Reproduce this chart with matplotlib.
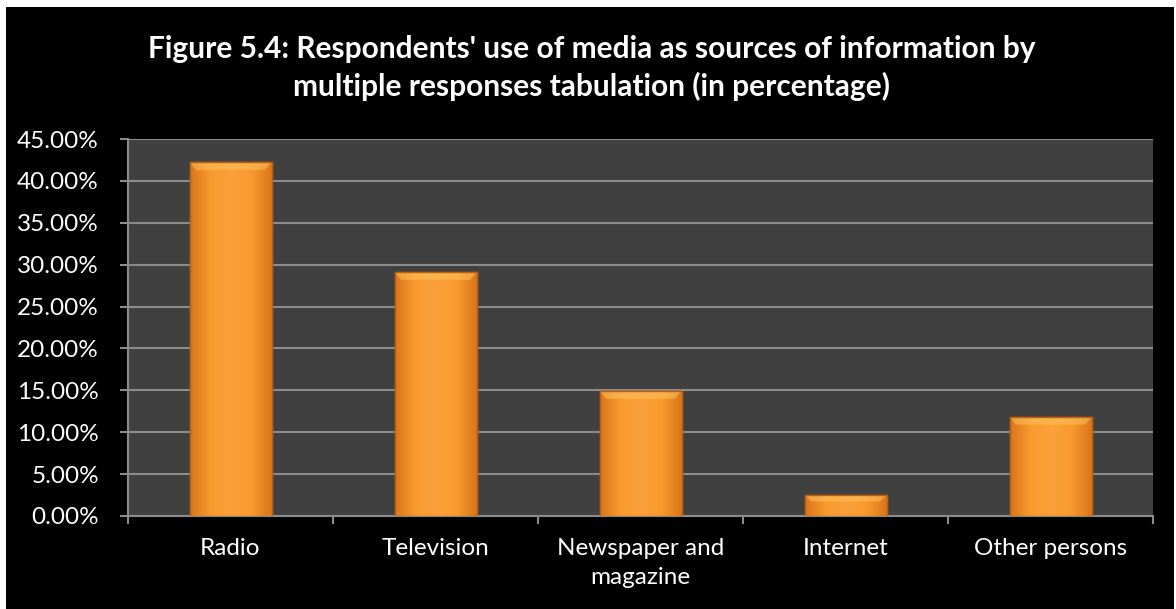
import matplotlib.pyplot as plt
import numpy as np
from matplotlib.ticker import FuncFormatter, MultipleLocator
from matplotlib.colors import LinearSegmentedColormap
from matplotlib.patches import Rectangle

plt.rcParams['font.family'] = ['Lato', 'DejaVu Sans']

categories = ['Radio', 'Television', 'Newspaper and\nmagazine', 'Internet', 'Other persons']
values = [42.2, 29.1, 14.9, 2.5, 11.8]

W, H = 1176, 609
fig = plt.figure(figsize=(W / 100, H / 100), dpi=100, facecolor='white')
# black chart area with a thin white margin on the left and top
fig.patches.append(Rectangle((6 / W, 0), (W - 8) / W, (H - 7) / H, transform=fig.transFigure,
                             facecolor='black', edgecolor='none', zorder=-10))

ax = fig.add_axes([128 / W, 1 - 516 / H, 1025 / W, 377 / H])
ax.set_facecolor('#404040')

x = np.arange(len(categories))
bars = ax.bar(x, values, width=0.4, color='#F7962A', edgecolor='#B85F12',
              linewidth=1.0, zorder=3)

# shaded fill: darker at the sides, light bevel across the top
cmap = LinearSegmentedColormap.from_list('bar', ['#D9761A', '#F99A2E', '#FBA03A', '#F99A2E', '#D9761A'])
for b in bars:
    x0, w, h = b.get_x(), b.get_width(), b.get_height()
    grad = np.tile(np.linspace(0, 1, 200), (50, 1))
    im = ax.imshow(grad, cmap=cmap, extent=[x0, x0 + w, 0, h], aspect='auto',
                   origin='lower', zorder=3.5)
    im.set_clip_path(b)
    bevel = min(0.9, h * 0.3)
    ax.fill([x0, x0 + w, x0 + w * 0.92, x0 + w * 0.08], [h, h, h - bevel, h - bevel],
            color='#FFC760', alpha=0.5, linewidth=0, zorder=3.6)
    ax.bar(b.get_x() + w / 2, h, width=w, fill=False, edgecolor='#B85F12',
           linewidth=1.0, zorder=4)

ax.set_xlim(-0.5, len(categories) - 0.5)
ax.set_ylim(0, 45)
ax.yaxis.set_major_locator(MultipleLocator(5))
ax.yaxis.set_major_formatter(FuncFormatter(lambda v, p: f'{v:.2f}%'))
ax.grid(axis='y', color='#8C8C8C', linewidth=1.5, zorder=1)

ax.set_xticks(x)
ax.set_xticklabels(categories, color='white', fontsize=17.5, linespacing=1.45)
ax.tick_params(axis='x', length=0, pad=16)
ax.set_xticks(np.arange(-0.5, len(categories)), minor=True)
ax.tick_params(axis='x', which='minor', length=6, color='#8C8C8C', width=1.5)
ax.tick_params(axis='y', colors='white', labelsize=17.5, length=6, width=1.5, pad=15)
ax.tick_params(axis='y', color='#8C8C8C')

for s in ['top', 'right']:
    ax.spines[s].set_visible(False)
for s in ['left', 'bottom']:
    ax.spines[s].set_color('#8C8C8C')
    ax.spines[s].set_linewidth(1.5)

fig.text(0.503, 1 - 68 / H, "Figure 5.4: Respondents' use of media as sources of information by\nmultiple responses tabulation (in percentage)",
         ha='center', va='center', color='white', fontsize=21.5, fontweight='bold',
         linespacing=1.4)

fig.savefig('out.png', dpi=100, facecolor='white')
